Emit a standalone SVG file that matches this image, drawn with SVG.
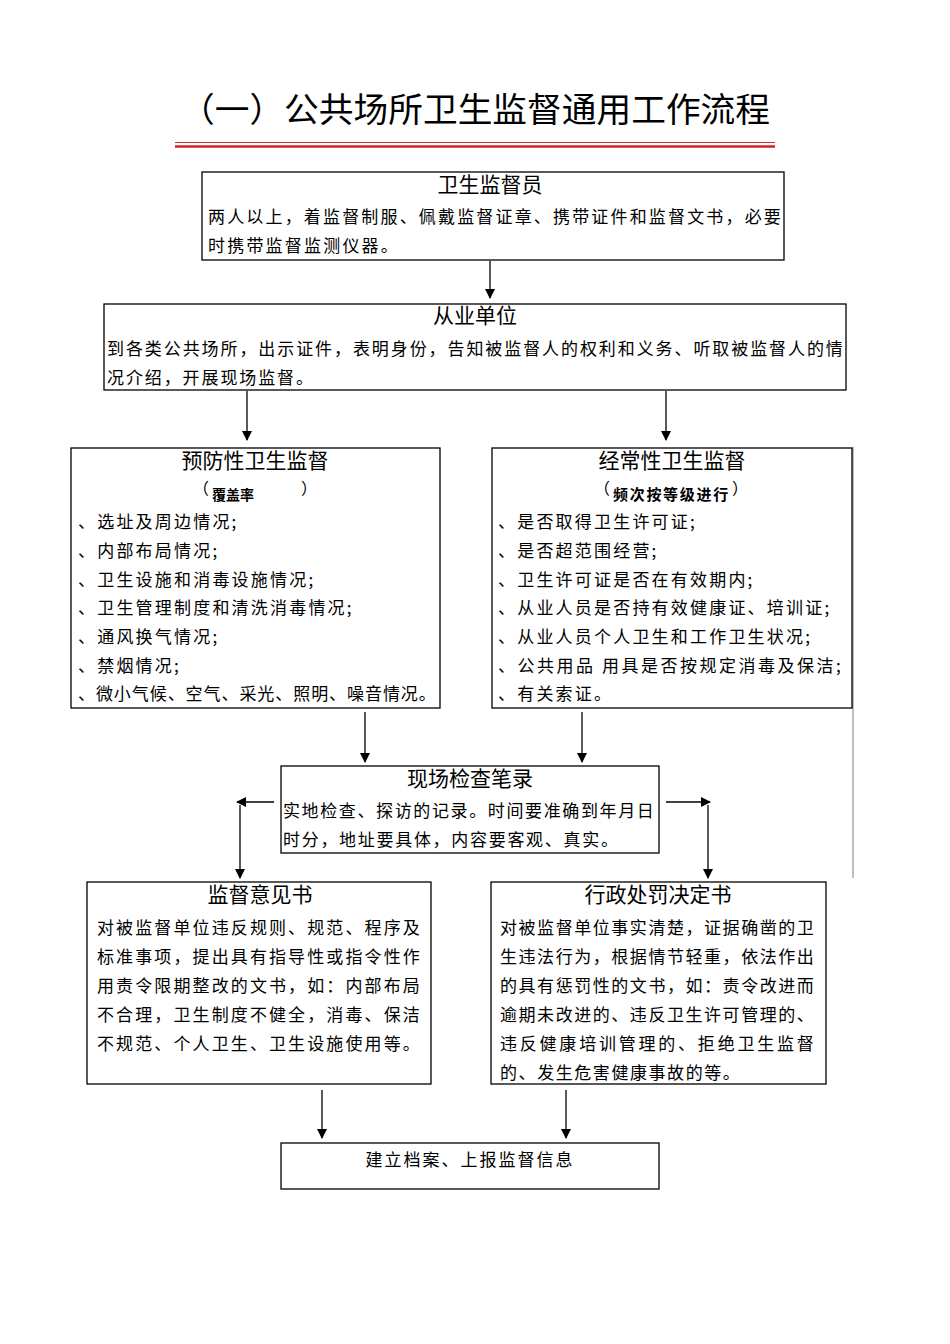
<svg xmlns="http://www.w3.org/2000/svg" width="950" height="1344" viewBox="0 0 950 1344">
<style>
text{font-family:"Noto Sans CJK SC","Liberation Sans",sans-serif;fill:#000}
.ttl{font-size:34px}
.h{font-size:21px;text-anchor:middle}
.b{font-size:17px;letter-spacing:2.2px}
.s{font-size:14px;font-weight:bold}
.p{font-size:16px}
rect.n{fill:#fff;stroke:#000;stroke-width:1.3}
.c line,.c path{stroke:#000;stroke-width:1.3;fill:none}
</style>
<defs>
<marker id="ah" markerUnits="userSpaceOnUse" markerWidth="10" markerHeight="12" refX="9" refY="5" orient="auto">
<path d="M0,0 L10,5 L0,10 Z" fill="#000"/>
</marker>
</defs>
<rect width="950" height="1344" fill="#fff"/>
<g id="title">
<text class="ttl" x="475" y="122" text-anchor="middle" textLength="590" lengthAdjust="spacingAndGlyphs">（一）公共场所卫生监督通用工作流程</text>
<line x1="175" y1="142.5" x2="775" y2="142.5" stroke="#d83030" stroke-width="1"/>
<line x1="175" y1="146.5" x2="775" y2="146.5" stroke="#d42020" stroke-width="2.5"/>
</g>
<line x1="853" y1="447" x2="853" y2="878" stroke="#c0c0c0" stroke-width="2"/>
<g id="n1">
<rect class="n" x="202" y="172" width="582" height="88"/>
<text class="h" x="490" y="192">卫生监督员</text>
<text class="b" x="208" y="223" textLength="575" lengthAdjust="spacing">两人以上，着监督制服、佩戴监督证章、携带证件和监督文书，必要</text>
<text class="b" x="208" y="252">时携带监督监测仪器。</text>
</g>
<g id="n2">
<rect class="n" x="104" y="304" width="742" height="86"/>
<text class="h" x="475" y="323">从业单位</text>
<text class="b" x="107" y="355" textLength="738" lengthAdjust="spacing">到各类公共场所，出示证件，表明身份，告知被监督人的权利和义务、听取被监督人的情</text>
<text class="b" x="107" y="384" style="letter-spacing:1.9px">况介绍，开展现场监督。</text>
</g>
<g id="n3">
<rect class="n" x="71" y="448" width="369" height="260"/>
<text class="h" x="255" y="468">预防性卫生监督</text>
<text class="p" x="193" y="494">（</text>
<text class="s" x="212" y="500">覆盖率</text>
<text class="p" x="301" y="494">）</text>
<text class="b" x="78" y="528">、选址及周边情况;</text>
<text class="b" x="78" y="557">、内部布局情况;</text>
<text class="b" x="78" y="586">、卫生设施和消毒设施情况;</text>
<text class="b" x="78" y="614">、卫生管理制度和清洗消毒情况;</text>
<text class="b" x="78" y="643">、通风换气情况;</text>
<text class="b" x="78" y="672">、禁烟情况;</text>
<text class="b" x="78" y="700" textLength="360" lengthAdjust="spacing">、微小气候、空气、采光、照明、噪音情况。</text>
</g>
<g id="n4">
<rect class="n" x="492" y="448" width="360" height="260"/>
<text class="h" x="672" y="468">经常性卫生监督</text>
<text class="p" x="594" y="494">（</text>
<text class="s" x="613" y="500" style="font-size:15px;letter-spacing:1.7px">频次按等级进行</text>
<text class="p" x="732" y="494">）</text>
<text class="b" x="498" y="528">、是否取得卫生许可证;</text>
<text class="b" x="498" y="557">、是否超范围经营;</text>
<text class="b" x="498" y="586">、卫生许可证是否在有效期内;</text>
<text class="b" x="498" y="614">、从业人员是否持有效健康证、培训证;</text>
<text class="b" x="498" y="643">、从业人员个人卫生和工作卫生状况;</text>
<text class="b" x="498" y="672" textLength="345" lengthAdjust="spacing">、公共用品 用具是否按规定消毒及保洁;</text>
<text class="b" x="498" y="700">、有关索证。</text>
</g>
<g id="n5">
<rect class="n" x="281" y="766" width="378" height="87"/>
<text class="h" x="470" y="786">现场检查笔录</text>
<text class="b" x="283" y="817" textLength="373" lengthAdjust="spacing">实地检查、探访的记录。时间要准确到年月日</text>
<text class="b" x="283" y="846" style="letter-spacing:1.7px">时分，地址要具体，内容要客观、真实。</text>
</g>
<g id="n6">
<rect class="n" x="87" y="882" width="344" height="202"/>
<text class="h" x="260" y="902">监督意见书</text>
<text class="b" x="97" y="934" textLength="325" lengthAdjust="spacing">对被监督单位违反规则、规范、程序及</text>
<text class="b" x="97" y="963" textLength="325" lengthAdjust="spacing">标准事项，提出具有指导性或指令性作</text>
<text class="b" x="97" y="992" textLength="325" lengthAdjust="spacing">用责令限期整改的文书，如：内部布局</text>
<text class="b" x="97" y="1021" textLength="325" lengthAdjust="spacing">不合理，卫生制度不健全，消毒、保洁</text>
<text class="b" x="97" y="1050" textLength="325" lengthAdjust="spacing">不规范、个人卫生、卫生设施使用等。</text>
</g>
<g id="n7">
<rect class="n" x="491" y="882" width="335" height="202"/>
<text class="h" x="658" y="902">行政处罚决定书</text>
<text class="b" x="500" y="934" textLength="316" lengthAdjust="spacing">对被监督单位事实清楚，证据确凿的卫</text>
<text class="b" x="500" y="963" textLength="316" lengthAdjust="spacing">生违法行为，根据情节轻重，依法作出</text>
<text class="b" x="500" y="992" textLength="316" lengthAdjust="spacing">的具有惩罚性的文书，如：责令改进而</text>
<text class="b" x="500" y="1021" textLength="316" lengthAdjust="spacing">逾期未改进的、违反卫生许可管理的、</text>
<text class="b" x="500" y="1050" textLength="316" lengthAdjust="spacing">违反健康培训管理的、拒绝卫生监督</text>
<text class="b" x="500" y="1079" textLength="242" lengthAdjust="spacing">的、发生危害健康事故的等。</text>
</g>
<g id="n8">
<rect class="n" x="281" y="1143" width="378" height="46"/>
<text class="b" x="470" y="1166" text-anchor="middle" style="letter-spacing:2px">建立档案、上报监督信息</text>
</g>
<g id="connectors" class="c">
<line x1="490" y1="261" x2="490" y2="298" marker-end="url(#ah)"/>
<line x1="247" y1="391" x2="247" y2="440" marker-end="url(#ah)"/>
<line x1="666" y1="391" x2="666" y2="440" marker-end="url(#ah)"/>
<line x1="365" y1="712" x2="365" y2="762" marker-end="url(#ah)"/>
<line x1="582" y1="712" x2="582" y2="762" marker-end="url(#ah)"/>
<line x1="274" y1="802" x2="237" y2="802" marker-end="url(#ah)"/>
<line x1="240" y1="805" x2="240" y2="878" marker-end="url(#ah)"/>
<line x1="666" y1="802" x2="710" y2="802" marker-end="url(#ah)"/>
<line x1="708" y1="805" x2="708" y2="878" marker-end="url(#ah)"/>
<line x1="322" y1="1090" x2="322" y2="1138" marker-end="url(#ah)"/>
<line x1="566" y1="1090" x2="566" y2="1138" marker-end="url(#ah)"/>
</g>
</svg>
